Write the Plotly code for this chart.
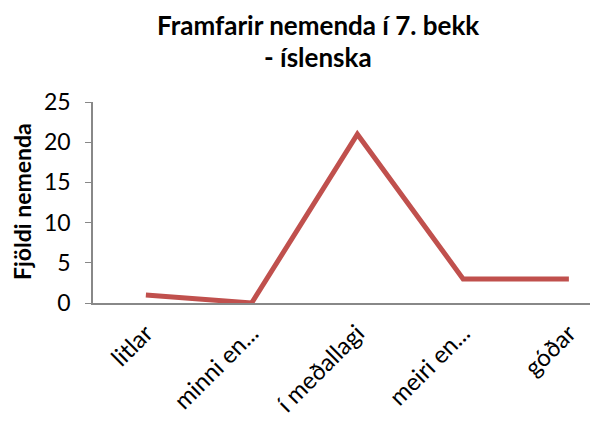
import plotly.graph_objects as go

categories = ["litlar", "minni en...", "í meðallagi", "meiri en...", "góðar"]
values = [1, 0, 21, 3, 3]
y_ticks = [0, 5, 10, 15, 20, 25]
title_line1 = "Framfarir nemenda í 7. bekk"
title_line2 = "- íslenska"
y_title = "Fjöldi nemenda"

FONT = "Lato"
OFF = 8  # page body margin
W, H = 598 - OFF, 423 - OFF
l, r, t, b = 93 - OFF, 0, 102 - OFF, 120
pw, ph = W - l - r, H - t - b

def px_x(x):
    return (x - OFF - l) / pw

def px_y(y):
    return (H - b - (y - OFF)) / ph

fig = go.Figure()
fig.add_trace(go.Scatter(
    x=list(range(len(categories))), y=values, mode="lines",
    line=dict(color="#C0504D", width=5), showlegend=False,
))

ann = dict(xref="paper", yref="paper", showarrow=False, xanchor="center", yanchor="middle")
fig.update_layout(
    width=W, height=H,
    margin=dict(l=l, r=r, t=t, b=b, autoexpand=False),
    paper_bgcolor="white", plot_bgcolor="white",
    font=dict(family=FONT, color="black"),
    annotations=[
        dict(text="<b>%s</b>" % title_line1, x=px_x(318), y=px_y(25),
             font=dict(size=26, family=FONT), **ann),
        dict(text="<b>%s</b>" % title_line2, x=px_x(318), y=px_y(57),
             font=dict(size=26, family=FONT), **ann),
        dict(text="<b>%s</b>" % y_title, x=px_x(22), y=px_y(202), textangle=-90,
             font=dict(size=23, family=FONT), **ann),
    ],
)

fig.update_xaxes(
    tickmode="array", tickvals=list(range(len(categories))), ticktext=categories,
    range=[-0.5, (598 - 93) / 105.75 - 0.5], tickangle=-45, automargin=False,
    showline=True, linecolor="#888888", linewidth=1.5, ticks="",
    ticklabelstandoff=5,
    showgrid=False, zeroline=False, tickfont=dict(size=24, family=FONT),
)
fig.update_yaxes(
    range=[0, 25], tickvals=y_ticks, showline=True, linecolor="#888888", linewidth=1.5,
    ticks="outside", ticklen=6, tickcolor="#888888", showgrid=False, zeroline=False,
    ticklabelstandoff=10,
    automargin=False, tickfont=dict(size=23, family=FONT),
)

fig.write_html("out.html")
